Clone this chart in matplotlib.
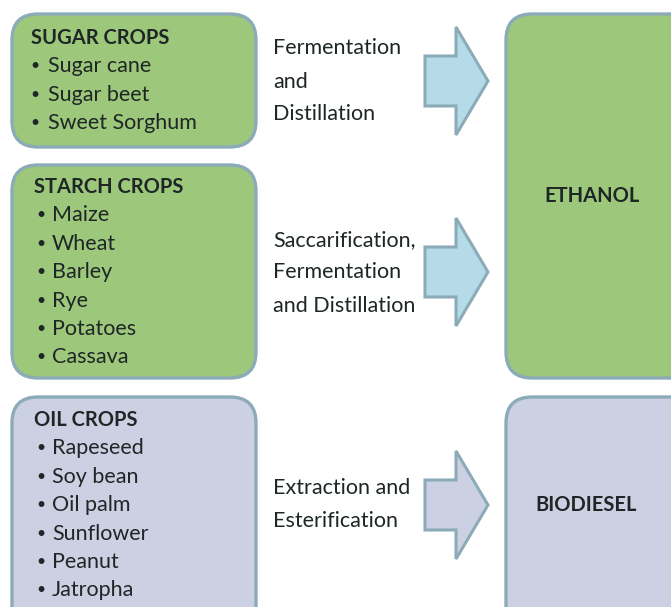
import matplotlib
matplotlib.use("Agg")
import matplotlib.pyplot as plt
from matplotlib.patches import FancyBboxPatch, Polygon

plt.rcParams['font.family'] = ['Lato', 'DejaVu Sans']

# ---- content ----
group_titles = ["SUGAR CROPS", "STARCH CROPS", "OIL CROPS"]
sugar_items = ["Sugar cane", "Sugar beet", "Sweet Sorghum"]
starch_items = ["Maize", "Wheat", "Barley", "Rye", "Potatoes", "Cassava"]
oil_items = ["Rapeseed", "Soy bean", "Oil palm", "Sunflower", "Peanut", "Jatropha"]
process_labels = [
    ["Fermentation", "and", "Distillation"],
    ["Saccarification,", "Fermentation", "and Distillation"],
    ["Extraction and", "Esterification"],
]
products = ["ETHANOL", "BIODIESEL"]

W, H = 671, 607
fig = plt.figure(figsize=(W / 100, H / 100), dpi=100)
ax = fig.add_axes([0, 0, 1, 1])
ax.set_xlim(0, W)
ax.set_ylim(H, 0)
ax.axis('off')

GREEN = '#9dc77b'
LAV = '#cbd0e2'
EDGE = '#8cabb8'
ARROW_BLUE = '#b4dbe7'
TXT = '#1e2626'
FS = 15.5
FS_B = 14.5

def rbox(x0, y0, x1, y1, fc):
    p = FancyBboxPatch((x0, y0), x1 - x0, y1 - y0,
                       boxstyle="round,pad=0,rounding_size=26",
                       fc=fc, ec=EDGE, lw=2.4, zorder=1)
    ax.add_patch(p)

def arrow(x0, yc, fc):
    sx1 = 456
    tip = 488
    pts = [(x0, yc - 25), (sx1, yc - 25), (sx1, yc - 54), (tip, yc),
           (sx1, yc + 54), (sx1, yc + 25), (x0, yc + 25)]
    ax.add_patch(Polygon(pts, closed=True, fc=fc, ec=EDGE, lw=2.2,
                         joinstyle='miter', zorder=2))

# left boxes
rbox(12, 14, 256, 147, GREEN)
rbox(12, 165, 256, 378, GREEN)
rbox(12, 397, 256, 640, LAV)
# right boxes
rbox(506, 14, 700, 378, GREEN)
rbox(506, 397, 700, 640, LAV)

# arrows
arrow(425, 81, ARROW_BLUE)
arrow(425, 272, ARROW_BLUE)
arrow(425, 505, LAV)

def group(title, items, tx, ty, bx, ix):
    ax.text(tx, ty, title, fontsize=FS_B, fontweight='bold', color=TXT,
            va='center', ha='left', zorder=3)
    for i, it in enumerate(items):
        y = ty + 28.4 * (i + 1)
        ax.text(bx, y, "\u2022", fontsize=FS - 4, color=TXT, va='center',
                ha='left', zorder=3)
        ax.text(ix, y, it, fontsize=FS, color=TXT, va='center', ha='left',
                zorder=3)

group(group_titles[0], sugar_items, 31, 38, 30, 48)
group(group_titles[1], starch_items, 34, 187, 36, 52)
group(group_titles[2], oil_items, 34, 420, 36, 52)

proc_y = [[48, 82, 114], [240, 272, 306], [488, 521]]
for labels, ys in zip(process_labels, proc_y):
    for lab, y in zip(labels, ys):
        ax.text(273, y, lab, fontsize=FS, color=TXT, va='center', ha='left',
                zorder=3)

ax.text(592, 196, products[0], fontsize=FS_B, fontweight='bold', color=TXT,
        va='center', ha='center', zorder=3)
ax.text(586, 505, products[1], fontsize=FS_B, fontweight='bold', color=TXT,
        va='center', ha='center', zorder=3)

fig.savefig("out.png", dpi=100)
